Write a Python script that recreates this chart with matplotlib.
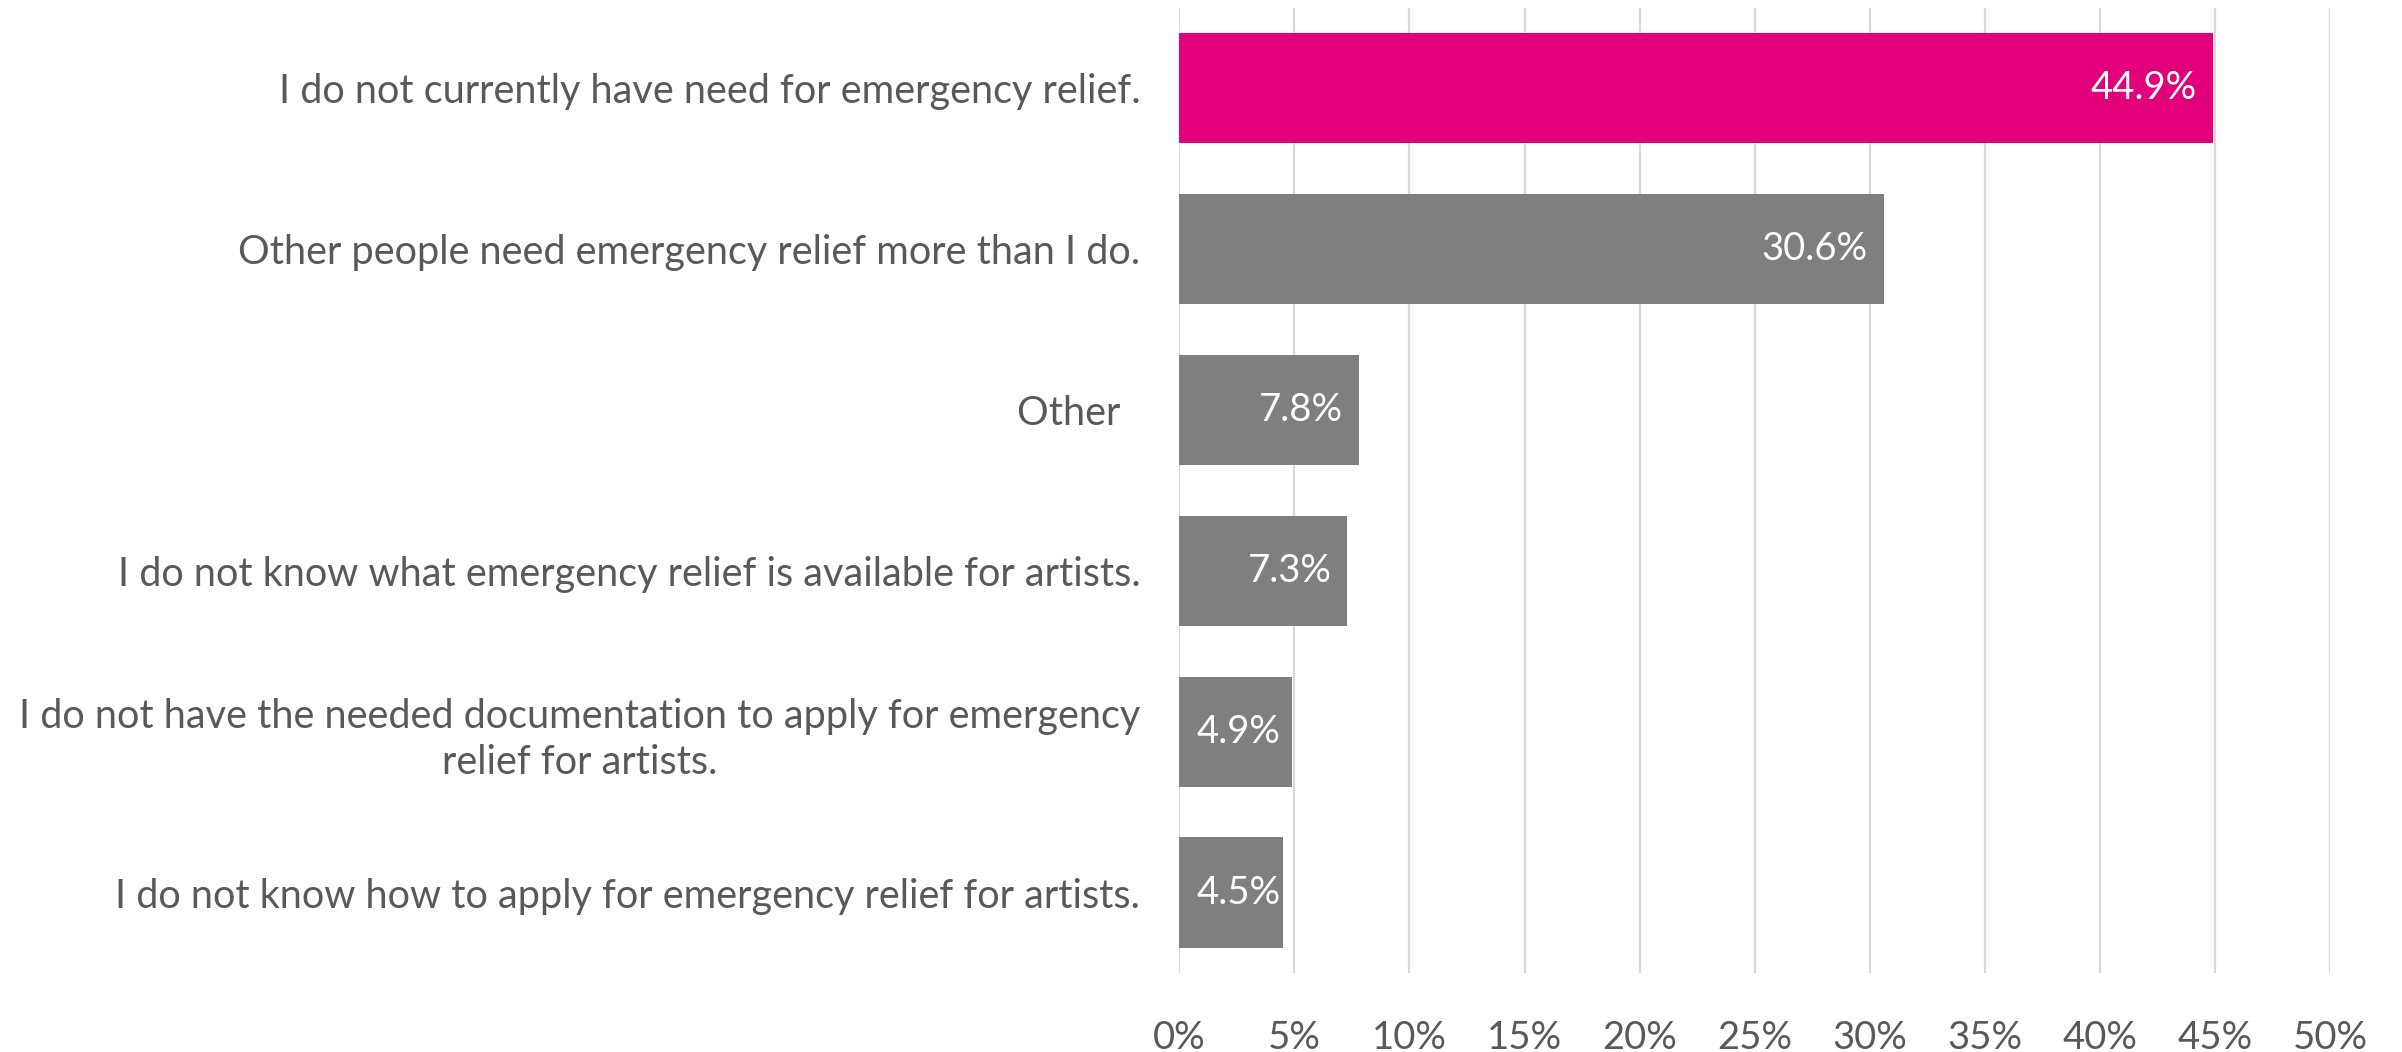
import matplotlib.pyplot as plt
from matplotlib.ticker import FuncFormatter

# survey responses, top to bottom
reasons = [
    'I do not currently have need for emergency relief.',
    'Other people need emergency relief more than I do.',
    'Other  ',
    'I do not know what emergency relief is available for artists.',
    'I do not have the needed documentation to apply for emergency\nrelief for artists.',
    'I do not know how to apply for emergency relief for artists.',
]
shares = [44.9, 30.6, 7.8, 7.3, 4.9, 4.5]
bar_colors = ['#E2007A', '#7F7F7F', '#7F7F7F', '#7F7F7F', '#7F7F7F', '#7F7F7F']
x_ticks = list(range(0, 55, 5))

plt.rcParams['font.family'] = ['Lato', 'DejaVu Sans']

fig = plt.figure(figsize=(24.02, 10.52), dpi=100)
ax = fig.add_axes([0.491, 0.0751, 0.479, 0.9173])

y_pos = list(range(len(reasons)))
ax.barh(y_pos, shares, height=0.685, color=bar_colors, zorder=2)

# value labels sit inside the end of each bar; short bars keep the
# label from running off the left edge
for y, v in zip(y_pos, shares):
    ax.text(max(v - 0.7, 4.4), y, f'{v:.1f}%', ha='right', va='center',
            color='white', fontsize=27.5, zorder=3)

ax.set_xlim(0, 50)
ax.set_ylim(len(reasons) - 0.5, -0.5)
ax.set_xticks(x_ticks)
ax.xaxis.set_major_formatter(FuncFormatter(lambda v, p: f'{v:.0f}%'))
ax.set_yticks(y_pos)
ax.set_yticklabels(reasons, multialignment='center', linespacing=1.3)

ax.grid(axis='x', color='#D9D9D9', linewidth=1.6, zorder=0)
ax.set_axisbelow(True)
for s in ax.spines.values():
    s.set_visible(False)

ax.tick_params(axis='x', length=0, pad=34, labelsize=27.5, labelcolor='#595959')
ax.tick_params(axis='y', length=0, pad=28, labelsize=28.5, labelcolor='#595959')

fig.savefig('out.png', dpi=100, facecolor='white')
